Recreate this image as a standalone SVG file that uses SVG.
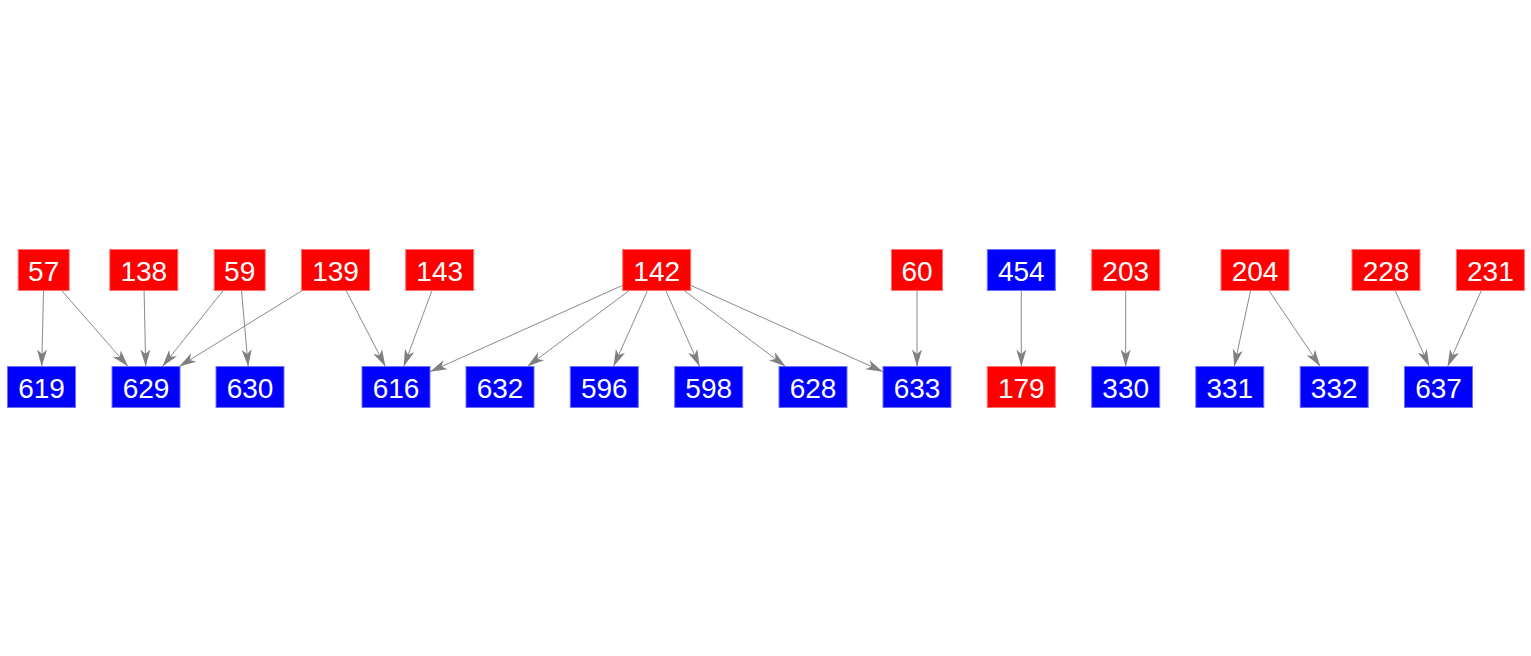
<svg xmlns="http://www.w3.org/2000/svg" width="1531" height="656" viewBox="0 0 1531 656">
<style>
.r{fill:#ff0000;stroke:#ff7070;stroke-width:1}
.b{fill:#0000ff;stroke:#7070ff;stroke-width:1}
.t{fill:#ffffff;font-family:"Liberation Sans",Arial,sans-serif;font-size:28px;text-anchor:middle}
.e{stroke:#8a8a8a;stroke-width:1;fill:none;marker-end:url(#ah)}
</style>
<defs>
<marker id="ah" markerUnits="userSpaceOnUse" viewBox="-18 -6 19 12" markerWidth="19" markerHeight="12" refX="0" refY="0" orient="auto">
<path d="M0,0 L-17,-5 L-12.5,0 L-17,5 Z" fill="#808080"/>
</marker>
</defs>
<rect width="1531" height="656" fill="#ffffff"/>
<g id="edges">
<line class="e" x1="43.5" y1="290.5" x2="41.7" y2="366.5"/>
<line class="e" x1="61.6" y1="290.5" x2="128.1" y2="366.5"/>
<line class="e" x1="144.1" y1="290.5" x2="145.7" y2="366.5"/>
<line class="e" x1="223.3" y1="290.5" x2="162.4" y2="366.5"/>
<line class="e" x1="241.5" y1="290.5" x2="248.2" y2="366.5"/>
<line class="e" x1="302.3" y1="290.5" x2="179.2" y2="366.5"/>
<line class="e" x1="346.1" y1="290.5" x2="385.4" y2="366.5"/>
<line class="e" x1="432" y1="290.5" x2="403.7" y2="366.5"/>
<line class="e" x1="622.7" y1="285.3" x2="430" y2="371.7"/>
<line class="e" x1="629.2" y1="290.5" x2="527.4" y2="366.5"/>
<line class="e" x1="647.5" y1="290.5" x2="613.5" y2="366.5"/>
<line class="e" x1="665.8" y1="290.5" x2="699.6" y2="366.5"/>
<line class="e" x1="684.1" y1="290.5" x2="785.6" y2="366.5"/>
<line class="e" x1="690.7" y1="285.3" x2="883" y2="371.7"/>
<line class="e" x1="917" y1="290.5" x2="917" y2="366.5"/>
<line class="e" x1="1021.3" y1="290.5" x2="1021.3" y2="366.5"/>
<line class="e" x1="1125.7" y1="290.5" x2="1125.7" y2="366.5"/>
<line class="e" x1="1250.6" y1="290.5" x2="1234.2" y2="366.5"/>
<line class="e" x1="1268.9" y1="290.5" x2="1320.3" y2="366.5"/>
<line class="e" x1="1395.2" y1="290.5" x2="1429.3" y2="366.5"/>
<line class="e" x1="1481.3" y1="290.5" x2="1447.6" y2="366.5"/>
</g>
<g id="n57"><rect class="r" x="18.2" y="249.5" width="51" height="41"/><text class="t" x="43.7" y="281">57</text></g>
<g id="n138"><rect class="r" x="109.8" y="249.5" width="68" height="41"/><text class="t" x="143.8" y="281">138</text></g>
<g id="n59"><rect class="r" x="214.2" y="249.5" width="51" height="41"/><text class="t" x="239.7" y="281">59</text></g>
<g id="n139"><rect class="r" x="301.5" y="249.5" width="68" height="41"/><text class="t" x="335.5" y="281">139</text></g>
<g id="n143"><rect class="r" x="405.7" y="249.5" width="68" height="41"/><text class="t" x="439.7" y="281">143</text></g>
<g id="n142"><rect class="r" x="622.7" y="249.5" width="68" height="41"/><text class="t" x="656.7" y="281">142</text></g>
<g id="n60"><rect class="r" x="891.5" y="249.5" width="51" height="41"/><text class="t" x="917" y="281">60</text></g>
<g id="n454"><rect class="b" x="987.3" y="249.5" width="68" height="41"/><text class="t" x="1021.3" y="281">454</text></g>
<g id="n203"><rect class="r" x="1091.7" y="249.5" width="68" height="41"/><text class="t" x="1125.7" y="281">203</text></g>
<g id="n204"><rect class="r" x="1221" y="249.5" width="68" height="41"/><text class="t" x="1255" y="281">204</text></g>
<g id="n228"><rect class="r" x="1352" y="249.5" width="68" height="41"/><text class="t" x="1386" y="281">228</text></g>
<g id="n231"><rect class="r" x="1456.4" y="249.5" width="68" height="41"/><text class="t" x="1490.4" y="281">231</text></g>
<g id="n619"><rect class="b" x="7.5" y="366.5" width="68" height="41"/><text class="t" x="41.5" y="398">619</text></g>
<g id="n629"><rect class="b" x="112" y="366.5" width="68" height="41"/><text class="t" x="146" y="398">629</text></g>
<g id="n630"><rect class="b" x="216" y="366.5" width="68" height="41"/><text class="t" x="250" y="398">630</text></g>
<g id="n616"><rect class="b" x="362" y="366.5" width="68" height="41"/><text class="t" x="396" y="398">616</text></g>
<g id="n632"><rect class="b" x="466" y="366.5" width="68" height="41"/><text class="t" x="500" y="398">632</text></g>
<g id="n596"><rect class="b" x="570.3" y="366.5" width="68" height="41"/><text class="t" x="604.3" y="398">596</text></g>
<g id="n598"><rect class="b" x="674.7" y="366.5" width="68" height="41"/><text class="t" x="708.7" y="398">598</text></g>
<g id="n628"><rect class="b" x="779" y="366.5" width="68" height="41"/><text class="t" x="813" y="398">628</text></g>
<g id="n633"><rect class="b" x="883" y="366.5" width="68" height="41"/><text class="t" x="917" y="398">633</text></g>
<g id="n179"><rect class="r" x="987.3" y="366.5" width="68" height="41"/><text class="t" x="1021.3" y="398">179</text></g>
<g id="n330"><rect class="b" x="1091.7" y="366.5" width="68" height="41"/><text class="t" x="1125.7" y="398">330</text></g>
<g id="n331"><rect class="b" x="1195.8" y="366.5" width="68" height="41"/><text class="t" x="1229.8" y="398">331</text></g>
<g id="n332"><rect class="b" x="1300.2" y="366.5" width="68" height="41"/><text class="t" x="1334.2" y="398">332</text></g>
<g id="n637"><rect class="b" x="1404.5" y="366.5" width="68" height="41"/><text class="t" x="1438.5" y="398">637</text></g>
</svg>
